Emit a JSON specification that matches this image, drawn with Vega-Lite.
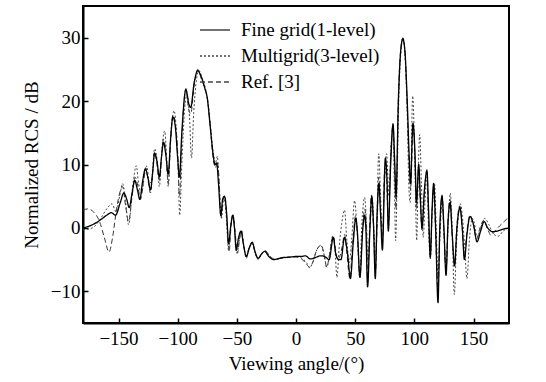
{
  "$schema": "https://vega.github.io/schema/vega-lite/v6.json",
  "width": 426,
  "height": 317,
  "autosize": {"type": "none"},
  "padding": {"left": 83, "top": 6, "right": 37, "bottom": 59},
  "background": "white",
  "config": {
    "font": "Liberation Serif",
    "view": {"stroke": "black", "strokeWidth": 2},
    "axis": {"labelFont": "Liberation Serif", "titleFont": "Liberation Serif", "labelFontSize": 19, "titleFontSize": 19, "titleFontWeight": "normal", "labelColor": "black", "titleColor": "black", "domainColor": "black", "domainWidth": 2, "tickColor": "black", "tickWidth": 1.5, "tickSize": -5, "grid": false}
  },
  "datasets": {
    "fine": [
      {"angle":-180,"rcs":0},{"angle":-172,"rcs":0.5},{"angle":-165,"rcs":1.3},{"angle":-160,"rcs":2.0},{"angle":-156,"rcs":2.4},{"angle":-152.5,"rcs":2.0},{"angle":-148.5,"rcs":4.0},{"angle":-145.5,"rcs":5.5},{"angle":-143,"rcs":4.5},{"angle":-141,"rcs":3.2},{"angle":-138.5,"rcs":5.5},{"angle":-136.3,"rcs":7.5},{"angle":-134,"rcs":6.0},{"angle":-132,"rcs":4.5},{"angle":-129.5,"rcs":7.5},{"angle":-127.3,"rcs":9.3},{"angle":-125,"rcs":7.8},{"angle":-123,"rcs":6.0},{"angle":-121,"rcs":9.0},{"angle":-119.5,"rcs":11.8},{"angle":-117.5,"rcs":10.5},{"angle":-115.5,"rcs":8.0},{"angle":-113.5,"rcs":11.5},{"angle":-112,"rcs":13.5},{"angle":-110,"rcs":11.5},{"angle":-108,"rcs":8.5},{"angle":-106,"rcs":14.0},{"angle":-104,"rcs":17.5},{"angle":-102,"rcs":16.0},{"angle":-100,"rcs":11.0},{"angle":-98.5,"rcs":8.0},{"angle":-96.5,"rcs":15.0},{"angle":-93,"rcs":21.8},{"angle":-90.5,"rcs":19.5},{"angle":-89,"rcs":19.0},{"angle":-86,"rcs":23.0},{"angle":-83,"rcs":24.8},{"angle":-80,"rcs":23.8},{"angle":-77,"rcs":22.0},{"angle":-75,"rcs":20.5},{"angle":-72.5,"rcs":16.0},{"angle":-70,"rcs":11.5},{"angle":-68.5,"rcs":10.0},{"angle":-67,"rcs":10.2},{"angle":-65.5,"rcs":7.0},{"angle":-63.5,"rcs":2.0},{"angle":-62,"rcs":4.5},{"angle":-60.5,"rcs":5.0},{"angle":-58.5,"rcs":2.0},{"angle":-57,"rcs":-2.5},{"angle":-55,"rcs":0.5},{"angle":-53.5,"rcs":2.0},{"angle":-52,"rcs":0.0},{"angle":-50.5,"rcs":-3.5},{"angle":-48.5,"rcs":-1.5},{"angle":-46.5,"rcs":-0.5},{"angle":-44.5,"rcs":-2.5},{"angle":-42,"rcs":-4.5},{"angle":-39.5,"rcs":-3.2},{"angle":-37,"rcs":-2.3},{"angle":-34.5,"rcs":-3.8},{"angle":-32,"rcs":-4.8},{"angle":-29,"rcs":-4.1},{"angle":-26.5,"rcs":-3.7},{"angle":-23,"rcs":-4.5},{"angle":-19,"rcs":-5.0},{"angle":-12,"rcs":-4.7},{"angle":-5,"rcs":-4.6},{"angle":0,"rcs":-4.5},{"angle":5,"rcs":-4.5},{"angle":8,"rcs":-4.4},{"angle":12,"rcs":-4.9},{"angle":16,"rcs":-4.7},{"angle":21,"rcs":-4.4},{"angle":25,"rcs":-4.6},{"angle":28,"rcs":-5.0},{"angle":31.5,"rcs":-1.5},{"angle":33.5,"rcs":-4.0},{"angle":36,"rcs":-5.0},{"angle":38,"rcs":-5.0},{"angle":41,"rcs":-1.5},{"angle":43.5,"rcs":-4.0},{"angle":46,"rcs":-8.0},{"angle":48.5,"rcs":-2.0},{"angle":50.5,"rcs":1.5},{"angle":52,"rcs":-1.0},{"angle":54,"rcs":-7.8},{"angle":56.5,"rcs":0.0},{"angle":58,"rcs":2.0},{"angle":59,"rcs":0.0},{"angle":60.5,"rcs":-9.3},{"angle":62.5,"rcs":0.0},{"angle":64,"rcs":5.0},{"angle":65.5,"rcs":0.5},{"angle":67,"rcs":-8.0},{"angle":68.5,"rcs":2.0},{"angle":70,"rcs":7.0},{"angle":71.5,"rcs":2.0},{"angle":73,"rcs":-3.5},{"angle":75.5,"rcs":11.0},{"angle":77,"rcs":7.0},{"angle":78,"rcs":-0.5},{"angle":80,"rcs":10.0},{"angle":82,"rcs":16.3},{"angle":83.5,"rcs":10.0},{"angle":84.5,"rcs":5.0},{"angle":86.5,"rcs":20.0},{"angle":88.5,"rcs":28.0},{"angle":90.3,"rcs":29.8},{"angle":92,"rcs":28.0},{"angle":94,"rcs":20.0},{"angle":95.5,"rcs":12.0},{"angle":96.8,"rcs":7.0},{"angle":98.8,"rcs":16.5},{"angle":100.5,"rcs":12.0},{"angle":101.8,"rcs":4.0},{"angle":103.7,"rcs":10.0},{"angle":105,"rcs":5.0},{"angle":106.5,"rcs":0.0},{"angle":108.5,"rcs":6.0},{"angle":110.7,"rcs":9.0},{"angle":112,"rcs":3.0},{"angle":113.5,"rcs":-4.6},{"angle":115,"rcs":3.0},{"angle":116.3,"rcs":7.0},{"angle":118,"rcs":0.0},{"angle":120,"rcs":-11.8},{"angle":121.5,"rcs":0.0},{"angle":123.4,"rcs":5.0},{"angle":125,"rcs":0.0},{"angle":126.8,"rcs":-7.5},{"angle":128.5,"rcs":1.0},{"angle":130.2,"rcs":4.0},{"angle":132,"rcs":-1.0},{"angle":134,"rcs":-6.0},{"angle":136,"rcs":0.0},{"angle":138.5,"rcs":3.2},{"angle":140.5,"rcs":0.0},{"angle":142.3,"rcs":-5.0},{"angle":144.5,"rcs":-1.0},{"angle":147,"rcs":1.8},{"angle":150,"rcs":0.5},{"angle":153,"rcs":-2.2},{"angle":156,"rcs":-0.5},{"angle":159,"rcs":1.0},{"angle":162,"rcs":0.0},{"angle":166,"rcs":-0.6},{"angle":170,"rcs":-0.5},{"angle":175,"rcs":-0.2},{"angle":180,"rcs":0.0}
    ],
    "multi": [
      {"angle":-180,"rcs":-0.3},{"angle":-172,"rcs":0.0},{"angle":-165,"rcs":1.5},{"angle":-160,"rcs":3.0},{"angle":-155.5,"rcs":3.8},{"angle":-152,"rcs":2.5},{"angle":-149,"rcs":5.0},{"angle":-146.5,"rcs":7.0},{"angle":-144,"rcs":4.0},{"angle":-141.5,"rcs":0.5},{"angle":-138,"rcs":6.5},{"angle":-135,"rcs":9.8},{"angle":-133,"rcs":7.0},{"angle":-130.5,"rcs":5.5},{"angle":-128,"rcs":8.5},{"angle":-126,"rcs":9.8},{"angle":-124,"rcs":7.0},{"angle":-122,"rcs":7.5},{"angle":-119.5,"rcs":12.5},{"angle":-117,"rcs":10.0},{"angle":-115.5,"rcs":6.5},{"angle":-113,"rcs":13.0},{"angle":-111,"rcs":15.3},{"angle":-109,"rcs":10.0},{"angle":-108,"rcs":6.5},{"angle":-106,"rcs":14.0},{"angle":-103,"rcs":18.5},{"angle":-101,"rcs":15.0},{"angle":-99.5,"rcs":9.0},{"angle":-98.3,"rcs":2.0},{"angle":-96.5,"rcs":10.0},{"angle":-94,"rcs":19.0},{"angle":-92,"rcs":21.0},{"angle":-90,"rcs":17.5},{"angle":-88.3,"rcs":11.0},{"angle":-86.5,"rcs":18.0},{"angle":-84,"rcs":23.5},{"angle":-82,"rcs":24.8},{"angle":-79,"rcs":23.5},{"angle":-76,"rcs":21.5},{"angle":-73,"rcs":17.5},{"angle":-70,"rcs":12.0},{"angle":-68,"rcs":10.2},{"angle":-66.5,"rcs":11.3},{"angle":-65,"rcs":7.0},{"angle":-63,"rcs":1.5},{"angle":-61,"rcs":4.8},{"angle":-59,"rcs":2.0},{"angle":-57,"rcs":-3.5},{"angle":-55,"rcs":0.5},{"angle":-53,"rcs":2.0},{"angle":-51.5,"rcs":-1.0},{"angle":-50,"rcs":-4.0},{"angle":-47.5,"rcs":-1.5},{"angle":-46,"rcs":-0.4},{"angle":-44,"rcs":-3.0},{"angle":-42,"rcs":-4.8},{"angle":-39.5,"rcs":-3.0},{"angle":-37,"rcs":-2.5},{"angle":-34.5,"rcs":-4.0},{"angle":-32,"rcs":-5.0},{"angle":-29,"rcs":-4.0},{"angle":-26,"rcs":-3.7},{"angle":-22,"rcs":-4.5},{"angle":-18,"rcs":-5.0},{"angle":-12,"rcs":-4.8},{"angle":-5,"rcs":-4.6},{"angle":0,"rcs":-4.5},{"angle":5,"rcs":-4.8},{"angle":9,"rcs":-5.5},{"angle":11.5,"rcs":-6.3},{"angle":14,"rcs":-5.5},{"angle":17.5,"rcs":-3.5},{"angle":21,"rcs":-2.8},{"angle":23.5,"rcs":-4.0},{"angle":26,"rcs":-6.2},{"angle":28.5,"rcs":-4.0},{"angle":31,"rcs":-1.3},{"angle":33,"rcs":-3.5},{"angle":34.6,"rcs":-7.8},{"angle":36.5,"rcs":-3.0},{"angle":38.5,"rcs":0.5},{"angle":41,"rcs":2.8},{"angle":43,"rcs":-2.0},{"angle":45,"rcs":-5.5},{"angle":47,"rcs":-2.0},{"angle":49.5,"rcs":4.3},{"angle":51.5,"rcs":0.0},{"angle":53.8,"rcs":-7.8},{"angle":55.5,"rcs":0.0},{"angle":58,"rcs":4.8},{"angle":59.5,"rcs":1.0},{"angle":61,"rcs":-5.5},{"angle":62.5,"rcs":0.0},{"angle":64.5,"rcs":4.5},{"angle":66,"rcs":-1.0},{"angle":67.5,"rcs":-4.5},{"angle":69.9,"rcs":11.7},{"angle":71.5,"rcs":5.0},{"angle":73,"rcs":-1.5},{"angle":74.5,"rcs":6.0},{"angle":76.5,"rcs":11.7},{"angle":78.5,"rcs":5.0},{"angle":80,"rcs":12.0},{"angle":81.8,"rcs":15.5},{"angle":83.2,"rcs":6.0},{"angle":84.2,"rcs":-2.0},{"angle":85.5,"rcs":8.0},{"angle":87,"rcs":21.0},{"angle":89,"rcs":28.5},{"angle":90.4,"rcs":29.9},{"angle":92,"rcs":27.5},{"angle":94,"rcs":18.0},{"angle":95.5,"rcs":6.0},{"angle":96.5,"rcs":4.0},{"angle":98.6,"rcs":20.8},{"angle":100,"rcs":14.0},{"angle":101,"rcs":5.0},{"angle":102,"rcs":-2.0},{"angle":103,"rcs":6.0},{"angle":104.5,"rcs":14.7},{"angle":106,"rcs":7.0},{"angle":107.5,"rcs":-1.5},{"angle":109,"rcs":4.0},{"angle":110.5,"rcs":8.0},{"angle":112,"rcs":0.0},{"angle":113.5,"rcs":-5.0},{"angle":115,"rcs":2.0},{"angle":117,"rcs":7.0},{"angle":118.5,"rcs":0.0},{"angle":120,"rcs":-8.0},{"angle":121.5,"rcs":-2.0},{"angle":123.5,"rcs":4.5},{"angle":125,"rcs":-1.0},{"angle":126.8,"rcs":-6.5},{"angle":128.5,"rcs":0.0},{"angle":130.4,"rcs":5.5},{"angle":132,"rcs":0.0},{"angle":133.8,"rcs":-10.5},{"angle":135.5,"rcs":-3.0},{"angle":138.9,"rcs":3.8},{"angle":141,"rcs":1.0},{"angle":142.5,"rcs":-3.0},{"angle":144.5,"rcs":-8.0},{"angle":146.5,"rcs":-2.0},{"angle":149,"rcs":1.5},{"angle":151,"rcs":0.5},{"angle":153,"rcs":-1.5},{"angle":156,"rcs":0.0},{"angle":159.5,"rcs":1.5},{"angle":163,"rcs":0.5},{"angle":167,"rcs":-1.0},{"angle":171,"rcs":-1.3},{"angle":175,"rcs":-0.5},{"angle":180,"rcs":0.0}
    ],
    "ref": [
      {"angle":-180,"rcs":2.8},{"angle":-176,"rcs":3.0},{"angle":-171,"rcs":2.5},{"angle":-166,"rcs":1.0},{"angle":-162,"rcs":-1.5},{"angle":-158,"rcs":-3.8},{"angle":-155,"rcs":-1.5},{"angle":-152,"rcs":2.5},{"angle":-149,"rcs":5.5},{"angle":-146.5,"rcs":6.5},{"angle":-144,"rcs":3.5},{"angle":-141.5,"rcs":1.0},{"angle":-138.5,"rcs":5.0},{"angle":-136,"rcs":8.0},{"angle":-133.5,"rcs":6.5},{"angle":-131.5,"rcs":4.5},{"angle":-129,"rcs":7.0},{"angle":-127,"rcs":9.5},{"angle":-125,"rcs":7.5},{"angle":-123,"rcs":5.5},{"angle":-121,"rcs":9.0},{"angle":-119.5,"rcs":12.0},{"angle":-117.5,"rcs":10.0},{"angle":-115.5,"rcs":7.5},{"angle":-113.5,"rcs":11.5},{"angle":-112,"rcs":14.0},{"angle":-110,"rcs":12.0},{"angle":-108,"rcs":7.0},{"angle":-106,"rcs":13.5},{"angle":-104,"rcs":17.8},{"angle":-102,"rcs":16.5},{"angle":-100,"rcs":12.0},{"angle":-98.5,"rcs":5.0},{"angle":-96.5,"rcs":14.0},{"angle":-93,"rcs":22.0},{"angle":-91,"rcs":19.0},{"angle":-89,"rcs":18.0},{"angle":-86,"rcs":22.5},{"angle":-83,"rcs":25.0},{"angle":-80,"rcs":23.5},{"angle":-77,"rcs":22.0},{"angle":-74.5,"rcs":20.0},{"angle":-72,"rcs":15.0},{"angle":-70,"rcs":11.0},{"angle":-68,"rcs":9.5},{"angle":-66.5,"rcs":10.5},{"angle":-65,"rcs":7.5},{"angle":-63.5,"rcs":1.5},{"angle":-61.5,"rcs":4.5},{"angle":-60,"rcs":5.0},{"angle":-58.5,"rcs":1.5},{"angle":-56.5,"rcs":-3.8},{"angle":-55,"rcs":0.0},{"angle":-53.3,"rcs":2.0},{"angle":-51.5,"rcs":-0.5},{"angle":-49.5,"rcs":-4.0},{"angle":-47.5,"rcs":-1.5},{"angle":-46,"rcs":-0.5},{"angle":-44,"rcs":-3.0},{"angle":-42,"rcs":-4.6},{"angle":-39.5,"rcs":-3.0},{"angle":-37,"rcs":-2.2},{"angle":-34.5,"rcs":-4.0},{"angle":-32,"rcs":-4.8},{"angle":-29,"rcs":-4.0},{"angle":-26,"rcs":-3.6},{"angle":-22,"rcs":-4.5},{"angle":-18,"rcs":-4.9},{"angle":-12,"rcs":-4.8},{"angle":-5,"rcs":-4.6},{"angle":0,"rcs":-4.6},{"angle":4,"rcs":-4.8},{"angle":8,"rcs":-5.5},{"angle":11.5,"rcs":-6.2},{"angle":14,"rcs":-5.5},{"angle":17.5,"rcs":-3.5},{"angle":21.4,"rcs":-2.7},{"angle":24,"rcs":-4.5},{"angle":26,"rcs":-6.2},{"angle":28.5,"rcs":-4.0},{"angle":31.5,"rcs":-1.2},{"angle":33.5,"rcs":-3.5},{"angle":35,"rcs":-5.0},{"angle":37,"rcs":-4.5},{"angle":39,"rcs":-3.0},{"angle":41,"rcs":-1.0},{"angle":43,"rcs":-4.0},{"angle":45.5,"rcs":-8.0},{"angle":48,"rcs":-2.0},{"angle":50.5,"rcs":2.0},{"angle":52,"rcs":-1.5},{"angle":54,"rcs":-7.8},{"angle":56,"rcs":-1.0},{"angle":58,"rcs":3.0},{"angle":59.5,"rcs":0.0},{"angle":60.5,"rcs":-8.5},{"angle":62,"rcs":-1.0},{"angle":63.7,"rcs":5.2},{"angle":65.5,"rcs":0.0},{"angle":67,"rcs":-7.5},{"angle":68.5,"rcs":0.0},{"angle":70,"rcs":8.0},{"angle":71.5,"rcs":3.0},{"angle":73,"rcs":-2.0},{"angle":75,"rcs":9.5},{"angle":76.5,"rcs":8.0},{"angle":78,"rcs":0.0},{"angle":80,"rcs":11.0},{"angle":82,"rcs":16.5},{"angle":83.5,"rcs":8.0},{"angle":84.5,"rcs":3.0},{"angle":86.5,"rcs":20.5},{"angle":88.5,"rcs":28.0},{"angle":90.4,"rcs":30.0},{"angle":92,"rcs":28.0},{"angle":94,"rcs":19.0},{"angle":95.5,"rcs":10.0},{"angle":96.8,"rcs":6.0},{"angle":99,"rcs":16.0},{"angle":100.5,"rcs":11.0},{"angle":101.8,"rcs":3.0},{"angle":103.7,"rcs":9.5},{"angle":105,"rcs":4.5},{"angle":106.5,"rcs":-0.5},{"angle":108.5,"rcs":5.5},{"angle":110.7,"rcs":9.2},{"angle":112,"rcs":2.0},{"angle":113.5,"rcs":-4.5},{"angle":115,"rcs":2.5},{"angle":116.5,"rcs":6.5},{"angle":118,"rcs":-1.0},{"angle":120,"rcs":-10.0},{"angle":121.5,"rcs":-1.0},{"angle":123.4,"rcs":5.2},{"angle":125,"rcs":-0.5},{"angle":126.8,"rcs":-7.0},{"angle":128.5,"rcs":1.5},{"angle":130.3,"rcs":4.5},{"angle":132,"rcs":-1.5},{"angle":134,"rcs":-5.5},{"angle":136,"rcs":0.5},{"angle":138.5,"rcs":3.5},{"angle":140.5,"rcs":0.0},{"angle":142.3,"rcs":-4.5},{"angle":144.5,"rcs":-0.5},{"angle":147,"rcs":2.0},{"angle":150,"rcs":0.5},{"angle":152.5,"rcs":-1.8},{"angle":155.5,"rcs":0.0},{"angle":158.6,"rcs":1.2},{"angle":161.5,"rcs":0.0},{"angle":165,"rcs":-1.2},{"angle":168,"rcs":-0.5},{"angle":172,"rcs":0.3},{"angle":176,"rcs":1.0},{"angle":180,"rcs":1.8}
    ]
  },
  "encoding": {
    "x": {"field": "angle", "type": "quantitative", "scale": {"domain": [-180, 180], "nice": false, "zero": false}, "axis": {"values": [-150, -100, -50, 0, 50, 100, 150], "title": "Viewing angle/(°)", "labelPadding": 11, "titlePadding": 6}},
    "y": {"field": "rcs", "type": "quantitative", "scale": {"domain": [-15, 35], "nice": false, "zero": false}, "axis": {"values": [-10, 0, 10, 20, 30], "title": "Normalized RCS / dB", "labelPadding": 8, "titlePadding": 9}}
  },
  "layer": [
    {"data": {"name": "ref"}, "mark": {"type": "line", "interpolate": "monotone", "color": "#333333", "strokeWidth": 1, "clip": true},
     "encoding": {"strokeDash": {"datum": "Ref. [3]", "type": "nominal", "scale": {"domain": ["Fine grid(1-level)", "Multigrid(3-level)", "Ref. [3]"], "range": [[1, 0], [2, 2], [5, 3]]},
       "legend": {"title": null, "orient": "none", "legendX": 116, "legendY": 8, "labelFontSize": 19, "labelFont": "Liberation Serif", "labelColor": "black", "symbolType": "stroke", "symbolSize": 900, "symbolStrokeColor": "black", "symbolStrokeWidth": 1.3, "rowPadding": -7, "labelOffset": 10}}}},
    {"data": {"name": "multi"}, "mark": {"type": "line", "interpolate": "monotone", "color": "#444444", "strokeWidth": 1, "clip": true},
     "encoding": {"strokeDash": {"datum": "Multigrid(3-level)", "type": "nominal"}}},
    {"data": {"name": "fine"}, "mark": {"type": "line", "interpolate": "monotone", "color": "black", "strokeWidth": 1.3, "clip": true},
     "encoding": {"strokeDash": {"datum": "Fine grid(1-level)", "type": "nominal"}}}
  ]
}
